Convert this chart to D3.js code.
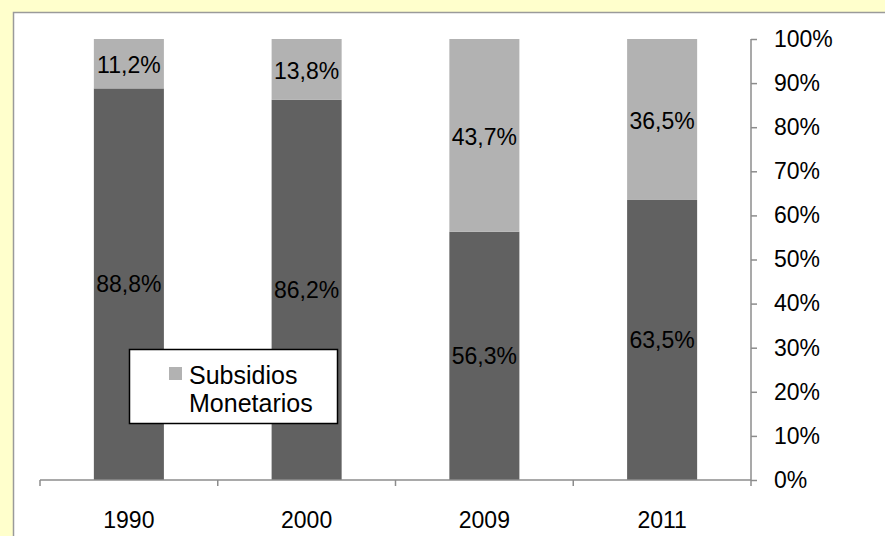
<!DOCTYPE html>
<meta charset="utf-8">
<head>
    <script type="text/javascript" src="https://cdn.jsdelivr.net/npm/d3@7"></script>
    <style>
        body { margin: 0; background: #FFFFCC; }
        text { font-family: Arial, "Liberation Sans", sans-serif; fill: #000; }
    </style>
    <title></title>
</head>
<body>
<script>

    var width = 885
    var height = 536

    // data
    var years = ["1990", "2000", "2009", "2011"]
    var monetarios = [11.2, 13.8, 43.7, 36.5]
    var otros = [88.8, 86.2, 56.3, 63.5]
    var yTicks = [0, 10, 20, 30, 40, 50, 60, 70, 80, 90, 100]

    var plot = {left: 40, right: 751, top: 39, bottom: 480}

    var svg = d3.select("body").append("svg")
        .attr("width", width)
        .attr("height", height)

    // white chart area
    svg.append("rect")
        .attr("x", 13.5).attr("y", 12.5)
        .attr("width", 900).attr("height", 600)
        .style("fill", "white")
        .style("stroke", "#9a9a9a")
        .style("stroke-width", 1.5)

    var x = d3.scaleBand()
        .domain(years)
        .range([plot.left, plot.right])
        .paddingInner(0.606)
        .paddingOuter(0.303)

    var y = d3.scaleLinear()
        .domain([0, 100])
        .range([plot.bottom, plot.top])

    var fmt = function (v) { return v.toFixed(1).replace(".", ",") + "%" }

    var rows = years.map(function (yr, i) {
        return {year: yr, low: otros[i], high: monetarios[i]}
    })

    var bars = svg.append("g")

    // bottom segment
    bars.selectAll("rect.low")
        .data(rows)
        .enter()
        .append("rect")
        .attr("class", "low")
        .attr("x", d => x(d.year))
        .attr("width", x.bandwidth())
        .attr("y", d => y(d.low))
        .attr("height", d => y(0) - y(d.low))
        .style("fill", "#616161")

    // top segment
    bars.selectAll("rect.high")
        .data(rows)
        .enter()
        .append("rect")
        .attr("class", "high")
        .attr("x", d => x(d.year))
        .attr("width", x.bandwidth())
        .attr("y", d => y(d.low + d.high))
        .attr("height", d => y(d.low) - y(d.low + d.high))
        .style("fill", "#b2b2b2")

    bars.selectAll("text.low")
        .data(rows)
        .enter()
        .append("text")
        .attr("x", d => x(d.year) + x.bandwidth() / 2)
        .attr("y", d => y(d.low / 2))
        .attr("dy", "0.36em")
        .attr("text-anchor", "middle")
        .style("font-size", "23px")
        .text(d => fmt(d.low))

    bars.selectAll("text.high")
        .data(rows)
        .enter()
        .append("text")
        .attr("x", d => x(d.year) + x.bandwidth() / 2)
        .attr("y", d => y(d.low + d.high / 2))
        .attr("dy", "0.4em")
        .attr("text-anchor", "middle")
        .style("font-size", "23px")
        .text(d => fmt(d.high))

    // x axis: line with ticks at category boundaries
    var xAxis = svg.append("g").style("stroke", "#8c8c8c").style("stroke-width", 1.5)
    xAxis.append("line")
        .attr("x1", plot.left).attr("x2", plot.right)
        .attr("y1", plot.bottom).attr("y2", plot.bottom)
    var step = x.step()
    xAxis.selectAll("line.tk")
        .data(d3.range(years.length + 1))
        .enter()
        .append("line")
        .attr("x1", i => plot.left + i * step)
        .attr("x2", i => plot.left + i * step)
        .attr("y1", plot.bottom).attr("y2", plot.bottom + 6)

    svg.append("g").selectAll("text")
        .data(years)
        .enter()
        .append("text")
        .attr("x", d => x(d) + x.bandwidth() / 2)
        .attr("y", 528)
        .attr("text-anchor", "middle")
        .style("font-size", "23px")
        .text(d => d)

    // right axis
    var yAxis = svg.append("g")
        .attr("transform", "translate(" + plot.right + ",0)")
        .call(d3.axisRight(y).tickValues(yTicks).tickSize(6).tickPadding(17)
            .tickFormat(d => d + "%"))
    yAxis.selectAll("path, line").style("stroke", "#8c8c8c").style("stroke-width", 1.5)
    yAxis.select("path").attr("d", "M0," + plot.top + "V" + plot.bottom)
    yAxis.selectAll("text")
        .style("font-size", "23px")
        .style("font-family", "Arial, 'Liberation Sans', sans-serif")
        .style("fill", "#000")

    // legend
    var legend = svg.append("g")
    legend.append("rect")
        .attr("x", 129.5).attr("y", 349.5)
        .attr("width", 208).attr("height", 74)
        .style("fill", "white")
        .style("stroke", "#000")
        .style("stroke-width", 1.5)
    legend.append("rect")
        .attr("x", 169).attr("y", 367)
        .attr("width", 13).attr("height", 13)
        .style("fill", "#b2b2b2")
    legend.append("text")
        .attr("x", 189).attr("y", 384)
        .style("font-size", "25px")
        .text("Subsidios")
    legend.append("text")
        .attr("x", 189).attr("y", 412)
        .style("font-size", "25px")
        .text("Monetarios")

</script>
</body>
</html>
